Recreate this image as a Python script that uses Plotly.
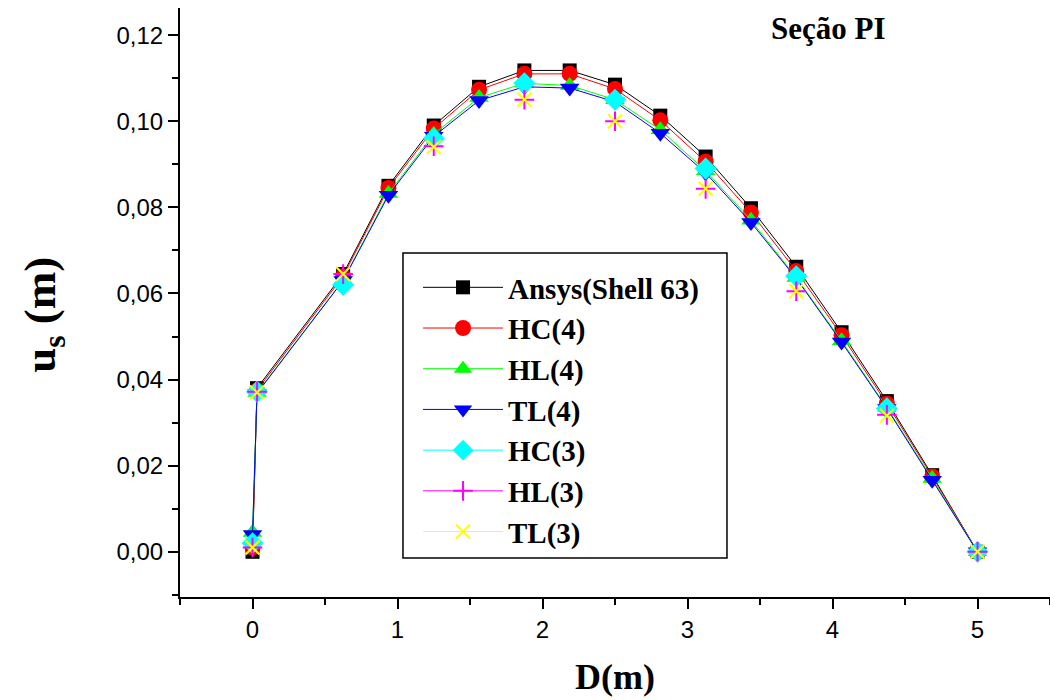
import plotly.graph_objects as go

# Station positions along the section (m)
x_fine = [0, 0.03125, 0.625, 0.9375, 1.25, 1.5625, 1.875, 2.1875, 2.5,
          2.8125, 3.125, 3.4375, 3.75, 4.0625, 4.375, 4.6875, 5.0]
x_coarse = [0, 0.03125, 0.625, 1.25, 1.875, 2.5, 3.125, 3.75, 4.375, 5.0]

# Displacement u_s (m)
ansys = [0.000, 0.0380, 0.0645, 0.0850, 0.0990, 0.1080, 0.1118, 0.1118, 0.1085,
         0.1013, 0.0918, 0.0798, 0.0662, 0.0510, 0.0350, 0.0178, 0.000]
hc4 = [0.001, 0.0375, 0.0640, 0.0845, 0.0983, 0.1073, 0.1110, 0.1110, 0.1075,
       0.1002, 0.0906, 0.0788, 0.0652, 0.0503, 0.0344, 0.0175, 0.000]
hl4 = [0.0045, 0.0370, 0.0630, 0.0832, 0.0970, 0.1055, 0.1088, 0.1083, 0.1050,
       0.0980, 0.0885, 0.0770, 0.0637, 0.0490, 0.0335, 0.0170, 0.000]
tl4 = [0.0040, 0.0368, 0.0630, 0.0828, 0.0965, 0.1048, 0.1080, 0.1077, 0.1045,
       0.0972, 0.0880, 0.0765, 0.0635, 0.0487, 0.0333, 0.0166, 0.000]
hc3 = [0.0020, 0.0372, 0.0620, 0.0960, 0.1088, 0.1050, 0.0890, 0.0640, 0.0333, 0.000]
hl3 = [0.0010, 0.0372, 0.0645, 0.0942, 0.1050, 0.1000, 0.0843, 0.0605, 0.0318, 0.000]
tl3 = [0.0010, 0.0370, 0.0645, 0.0940, 0.1050, 0.1000, 0.0843, 0.0605, 0.0316, 0.000]

names = ["Ansys(Shell 63)", "HC(4)", "HL(4)", "TL(4)", "HC(3)", "HL(3)", "TL(3)"]
colors = ["#000000", "#FF0000", "#00FF00", "#0000FF", "#00FFFF", "#FF00FF", "#FFFF00"]
symbols = ["square", "circle", "triangle-up", "triangle-down", "diamond",
           "cross-thin", "x-thin"]
sizes = [14, 16, 17, 17, 17, 14, 14]

series = [(x_fine, ansys, True), (x_fine, hc4, True), (x_fine, hl4, True),
          (x_fine, tl4, True), (x_coarse, hc3, False), (x_coarse, hl3, False),
          (x_coarse, tl3, False)]

SERIF = "Liberation Serif"
SANS = "Liberation Sans"

fig = go.Figure()
for (xs, ys, joined), name, c, sym, sz in zip(series, names, colors, symbols, sizes):
    thin = sym.endswith("-thin")
    marker = dict(symbol=sym, size=sz, color=c,
                  line=dict(width=2 if thin else 0, color=c))
    # data markers (fine-mesh models are joined with lines)
    fig.add_trace(go.Scatter(
        x=xs, y=ys, mode="lines+markers" if joined else "markers",
        line=dict(color=c, width=1), marker=marker,
        name=name, showlegend=False, cliponaxis=False))
    # legend entry with line and symbol
    fig.add_trace(go.Scatter(
        x=[None], y=[None], mode="lines+markers",
        line=dict(color=c, width=1), marker=marker, name=name))

fig.update_layout(
    width=1050, height=700,
    margin=dict(l=180, r=0, t=8, b=103),
    paper_bgcolor="white", plot_bgcolor="white",
    separators=",.",
    showlegend=True,
    legend=dict(x=0.2736, y=0.5688, xanchor="left", yanchor="top",
                bgcolor="rgba(0,0,0,0)", borderwidth=0,
                font=dict(family=SERIF, size=29, color="black", weight="bold"),
                itemwidth=80, tracegroupgap=0),
    xaxis=dict(range=[-0.5, 5.5], tickvals=[0, 1, 2, 3, 4, 5],
               showgrid=False, zeroline=False, showline=True,
               linecolor="black", linewidth=2,
               ticks="outside", ticklen=10, tickwidth=2, tickcolor="black",
               minor=dict(dtick=0.5, tick0=0, ticks="outside", ticklen=6,
                          tickwidth=2, tickcolor="black"),
               tickfont=dict(family=SANS, size=24, color="black")),
    yaxis=dict(range=[-0.0105, 0.1263], tickvals=[0, 0.02, 0.04, 0.06, 0.08, 0.10, 0.12],
               tickformat=".2f",
               showgrid=False, zeroline=False, showline=True,
               linecolor="black", linewidth=2,
               ticks="outside", ticklen=10, tickwidth=2, tickcolor="black",
               minor=dict(dtick=0.01, tick0=0, ticks="outside", ticklen=6,
                          tickwidth=2, tickcolor="black"),
               tickfont=dict(family=SANS, size=24, color="black")),
    shapes=[
        # legend frame
        dict(type="rect", xref="paper", yref="paper", x0=0.2563, x1=0.6287,
             y0=0.0662, y1=0.5840, fillcolor="white",
             line=dict(color="black", width=1.5), layer="below"),
    ],
    annotations=[
        dict(text="<b>Seção PI</b>", xref="paper", yref="paper", x=0.745, y=0.966,
             xanchor="center", yanchor="middle", showarrow=False,
             font=dict(family=SERIF, size=31, color="black")),
        dict(text="<b>D(m)</b>", xref="paper", yref="paper", x=0.5, y=-0.135,
             xanchor="center", yanchor="middle", showarrow=False,
             font=dict(family=SERIF, size=36, color="black")),
        dict(text="<b>u<sub>s</sub> (m)</b>", xref="paper", yref="paper", x=-0.157,
             y=0.48, xanchor="center", yanchor="middle", showarrow=False,
             textangle=-90, font=dict(family=SERIF, size=45, color="black")),
    ],
)

fig.write_html("out.html")
